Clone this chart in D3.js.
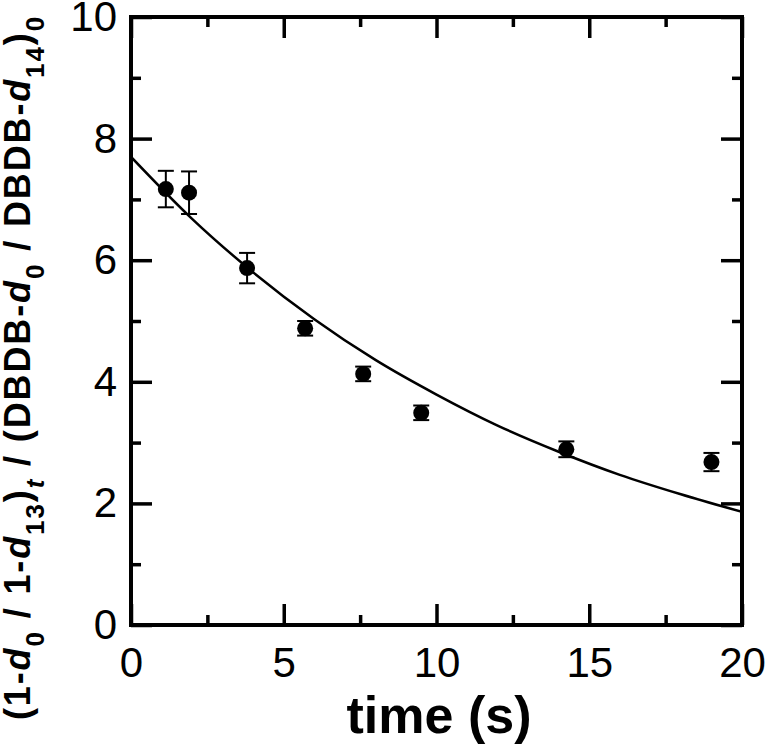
<!DOCTYPE html>
<html>
<head>
<meta charset="utf-8">
<script src="https://cdn.jsdelivr.net/npm/d3@7/dist/d3.min.js"></script>
<style>
  html, body { margin: 0; padding: 0; background: #fff; }
  svg { display: block; }
  text { font-family: "Liberation Sans", Arial, Helvetica, sans-serif; fill: #000; }
</style>
</head>
<body>
<svg id="chart" width="766" height="745"></svg>
<script>
// ---- data ----
const timeS   = [1.14, 1.9, 3.8, 5.7, 7.6, 9.5, 14.25, 19.0];
const ratio   = [7.17, 7.11, 5.87, 4.88, 4.13, 3.49, 2.89, 2.68];
const ratioErr = [0.30, 0.35, 0.25, 0.12, 0.12, 0.12, 0.13, 0.15];

const fitTime  = [0, 2, 4, 6, 8, 10, 12, 14, 16, 18, 20];
const fitRatio = [7.70, 6.68, 5.80, 5.03, 4.36, 3.79, 3.28, 2.85, 2.47, 2.15, 1.86];

const xMajorTicks = [0, 5, 10, 15, 20];
const xMinorTicks = [2.5, 7.5, 12.5, 17.5];
const yMajorTicks = [0, 2, 4, 6, 8, 10];
const yMinorTicks = [1, 3, 5, 7, 9];

// ---- layout ----
const svg = d3.select("#chart");
const margin = {left: 131, top: 17, right: 24, bottom: 120};
const W = 766, H = 745;
const iw = W - margin.left - margin.right;   // 611
const ih = H - margin.top - margin.bottom;   // 608

const x = d3.scaleLinear().domain([0, 20]).range([0, iw]);
const y = d3.scaleLinear().domain([0, 10]).range([ih, 0]);

const g = svg.append("g").attr("transform", `translate(${margin.left},${margin.top})`);

function styleAxis(sel, labels) {
  sel.select(".domain").remove();
  sel.selectAll(".tick line").attr("stroke", "#000").attr("stroke-width", 3.5);
  if (!labels) sel.selectAll(".tick text").remove();
  else sel.selectAll(".tick text")
          .attr("font-size", 42)
          .attr("font-family", "Liberation Sans, Arial, Helvetica, sans-serif")
          .attr("fill", "#000");
}

// bottom
g.append("g").attr("transform", `translate(0,${ih})`)
  .call(d3.axisBottom(x).tickValues(xMajorTicks).tickSize(-21).tickPadding(22).tickFormat(d3.format("d")))
  .call(s => styleAxis(s, true));
g.append("g").attr("transform", `translate(0,${ih})`)
  .call(d3.axisBottom(x).tickValues(xMinorTicks).tickSize(-10))
  .call(s => styleAxis(s, false));
// top
g.append("g")
  .call(d3.axisTop(x).tickValues(xMajorTicks).tickSize(-21))
  .call(s => styleAxis(s, false));
g.append("g")
  .call(d3.axisTop(x).tickValues(xMinorTicks).tickSize(-10))
  .call(s => styleAxis(s, false));
// left
g.append("g")
  .call(d3.axisLeft(y).tickValues(yMajorTicks).tickSize(-21).tickPadding(14).tickFormat(d3.format("d")))
  .call(s => styleAxis(s, true));
g.append("g")
  .call(d3.axisLeft(y).tickValues(yMinorTicks).tickSize(-10))
  .call(s => styleAxis(s, false));
// right
g.append("g").attr("transform", `translate(${iw},0)`)
  .call(d3.axisRight(y).tickValues(yMajorTicks).tickSize(-21))
  .call(s => styleAxis(s, false));
g.append("g").attr("transform", `translate(${iw},0)`)
  .call(d3.axisRight(y).tickValues(yMinorTicks).tickSize(-10))
  .call(s => styleAxis(s, false));

// clip
svg.append("defs").append("clipPath").attr("id", "plotclip")
  .append("rect").attr("width", iw).attr("height", ih);

// fit curve
const line = d3.line().x((d, i) => x(fitTime[i])).y((d, i) => y(fitRatio[i])).curve(d3.curveMonotoneX);
g.append("path").datum(fitRatio)
  .attr("clip-path", "url(#plotclip)")
  .attr("d", line).attr("fill", "none").attr("stroke", "#000").attr("stroke-width", 2.5);

// error bars
const pts = timeS.map((t, i) => ({t, v: ratio[i], e: ratioErr[i]}));
const eb = g.append("g").attr("stroke", "#000").attr("stroke-width", 2);
eb.selectAll("line.v").data(pts).join("line").attr("class", "v")
  .attr("x1", d => x(d.t)).attr("x2", d => x(d.t))
  .attr("y1", d => y(d.v - d.e)).attr("y2", d => y(d.v + d.e));
eb.selectAll("line.top").data(pts).join("line").attr("class", "top")
  .attr("x1", d => x(d.t) - 8).attr("x2", d => x(d.t) + 8)
  .attr("y1", d => y(d.v + d.e)).attr("y2", d => y(d.v + d.e));
eb.selectAll("line.bot").data(pts).join("line").attr("class", "bot")
  .attr("x1", d => x(d.t) - 8).attr("x2", d => x(d.t) + 8)
  .attr("y1", d => y(d.v - d.e)).attr("y2", d => y(d.v - d.e));

// points
g.append("g").selectAll("circle").data(pts).join("circle")
  .attr("cx", d => x(d.t)).attr("cy", d => y(d.v)).attr("r", 8).attr("fill", "#000");

// frame
g.append("rect").attr("width", iw).attr("height", ih)
  .attr("fill", "none").attr("stroke", "#000").attr("stroke-width", 4);

// x title
svg.append("text").attr("x", 439).attr("y", 733)
  .attr("text-anchor", "middle").attr("font-size", 52).attr("font-weight", "bold")
  .text("time (s)");

// y title
const yt = svg.append("text")
  .attr("transform", "translate(30,720) rotate(-90)")
  .attr("font-size", 36).attr("font-weight", "bold");
const parts = [
  ["(1-", "n"], ["d", "i"], ["0", "sub"], [" / 1-", "n"], ["d", "i"], ["13", "sub"],
  [")", "n"], ["t", "subi"], [" / (DBDB-", "n"], ["d", "i"], ["0", "sub"],
  [" / DBDB-", "n"], ["d", "i"], ["14", "sub"], [")", "n"], ["0", "sub"]
];
let lowered = false;
let nChars = 0;
parts.forEach(([txt, kind]) => {
  const ts = yt.append("tspan").text(txt);
  nChars += txt.length;
  const isSub = kind === "sub" || kind === "subi";
  if (isSub && !lowered) { ts.attr("dy", 14); lowered = true; }
  else if (!isSub && lowered) { ts.attr("dy", -14); lowered = false; }
  if (isSub) ts.attr("font-size", 26);
  if (kind === "i" || kind === "subi") ts.attr("font-style", "italic");
});
// spread the title to the length it has in the reference (about 705 px)
const len = yt.node().getComputedTextLength();
const ls = Math.max(0, (705 - len) / nChars);
yt.attr("letter-spacing", ls);
</script>
</body>
</html>
